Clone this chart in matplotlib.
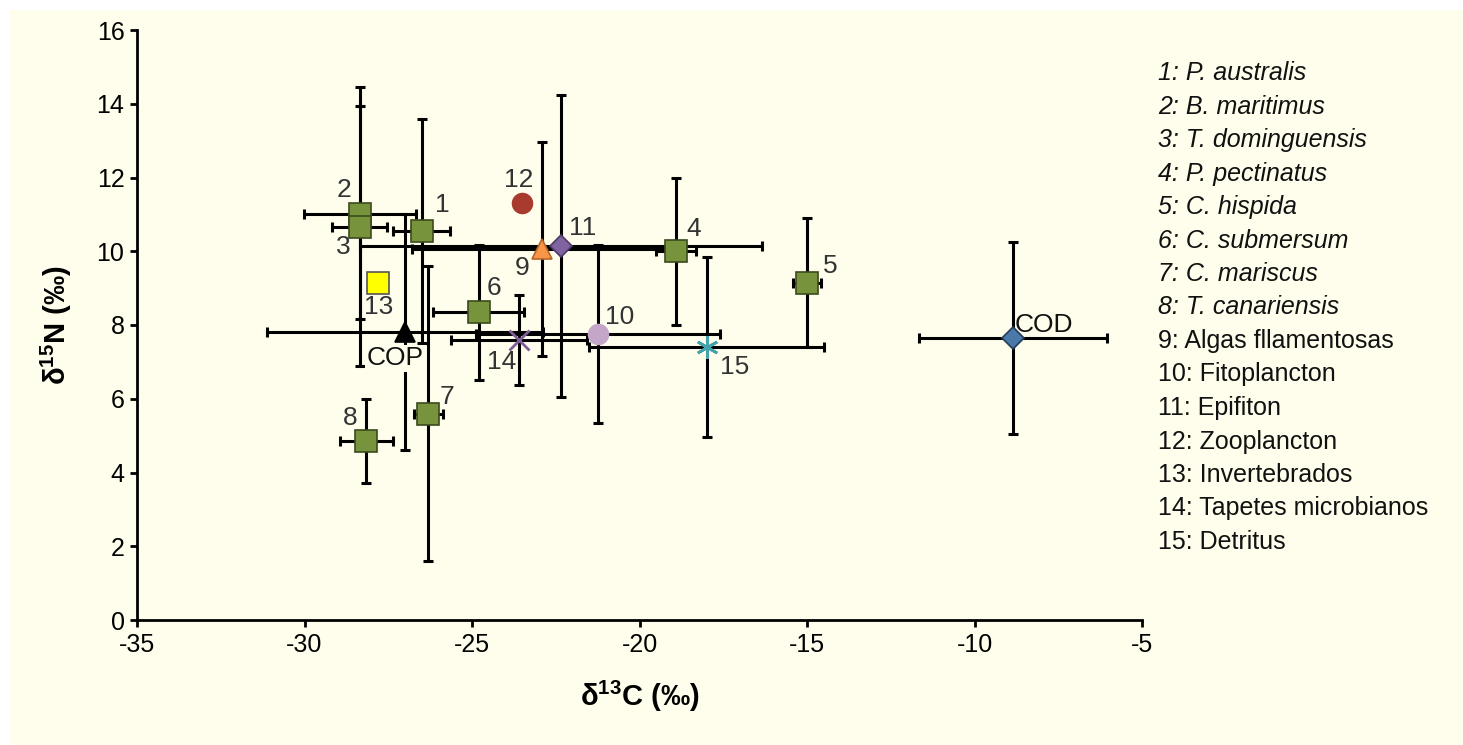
import numpy as np
import matplotlib
matplotlib.use("Agg")
import matplotlib.pyplot as plt
from matplotlib.patches import Rectangle

plt.rcParams['font.family'] = ['Liberation Sans', 'DejaVu Sans']
plt.rcParams['mathtext.fontset'] = 'custom'
plt.rcParams['mathtext.rm'] = 'Liberation Sans'
plt.rcParams['mathtext.bf'] = 'Liberation Sans:bold'
plt.rcParams['axes.unicode_minus'] = False

# point labels, positions and errors (d13C, d15N)
labels = ['1', '2', '3', '4', '5', '6', '7', '8', '9', '10', '11', '12', '13', '14', '15', 'COP', 'COD']
d13C = [-26.5, -28.35, -28.35, -18.9, -15.0, -24.8, -26.3, -28.15, -22.9, -21.25,
        -22.35, -23.5, -27.8, -23.6, -18.0, -27.0, -8.85]
d15N = [10.55, 11.0, 10.65, 10.0, 9.15, 8.35, 5.6, 4.85, 10.05, 7.75,
        10.15, 11.3, 9.15, 7.6, 7.4, 7.8, 7.65]
err_C = [0.85, 1.67, 0.82, 0.6, 0.43, 1.36, 0.42, 0.8, 3.9, 3.64,
         6.0, 0, 0, 2.03, 3.5, 4.12, 2.8]
err_N_low = [3.04, 4.1, 2.48, 2.0, 1.76, 1.83, 4.0, 1.13, 2.9, 2.42,
             4.1, 0, 0, 1.22, 2.44, 3.2, 2.6]
err_N_high = [3.04, 3.45, 3.3, 2.0, 1.76, 1.83, 4.0, 1.13, 2.9, 2.42,
              4.1, 0, 0, 1.22, 2.44, 3.2, 2.6]

legend_lines = ['1: P. australis', '2: B. maritimus', '3: T. dominguensis', '4: P. pectinatus',
                '5: C. hispida', '6: C. submersum', '7: C. mariscus', '8: T. canariensis',
                '9: Algas fllamentosas', '10: Fitoplancton', '11: Epifiton', '12: Zooplancton',
                '13: Invertebrados', '14: Tapetes microbianos', '15: Detritus']

# marker style per point: (marker, face, edge, size)
green = '#77933C'
styles = [('s', green, '#3B4A1E', 15.5)] * 8 + [
    ('^', '#F79646', '#B5652A', 15),
    ('o', '#C4A6C8', 'none', 15.5),
    ('D', '#8064A2', '#4D3A66', 11),
    ('o', '#A93A2E', 'none', 15.5),
    ('s', '#FFFF00', '#555555', 15.5),
    ('x', '#7F5F9A', '#7F5F9A', 14),
    ((6, 2, 0), '#45A3AE', '#45A3AE', 16),
    ('^', '#000000', '#000000', 15),
    ('D', '#4A78A8', '#243C58', 11),
]
# label offsets in pixels
offsets = [(21, 26), (-16, 24), (-16, -20), (17, 22), (23, 17), (15, 24), (19, 17), (-16, 23),
           (-20, -19), (22, 17), (22, 18), (-4, 23), (0, -24), (-17, -22), (28, -20),
           (-10, -26), (31, 13)]

cream = '#FFFDEB'
fig = plt.figure(figsize=(14.63, 7.45), dpi=100, facecolor='white')
fig.patches.append(Rectangle((10 / 1463, -0.01), 1, 735 / 745 + 0.01, transform=fig.transFigure,
                             facecolor=cream, edgecolor='none', zorder=-5))
ax = fig.add_axes([137 / 1463, 125 / 745, 1005 / 1463, 590 / 745])
ax.set_facecolor(cream)

for i in range(len(labels)):
    if err_C[i] > 0 or err_N_low[i] > 0:
        ax.errorbar(d13C[i], d15N[i], xerr=err_C[i], yerr=[[err_N_low[i]], [err_N_high[i]]],
                    fmt='none', ecolor='black', elinewidth=2.2, capsize=3.5, capthick=2.2, zorder=2)

for i in range(len(labels)):
    m, fc, ec, ms = styles[i]
    if m in ('x',) or isinstance(m, tuple):
        ax.plot(d13C[i], d15N[i], marker=m, ms=ms, color=fc, mew=2, ls='none', zorder=3)
    else:
        ax.plot(d13C[i], d15N[i], marker=m, ms=ms, mfc=fc, mec=ec, mew=1.2, ls='none', zorder=3)

for i, lab in enumerate(labels):
    col = '#111111' if lab in ('COP', 'COD') else '#333333'
    kw = {}
    if lab == 'COP':
        kw['bbox'] = dict(boxstyle='square,pad=0.05', fc=cream, ec='none')
    ax.annotate(lab, (d13C[i], d15N[i]), xytext=offsets[i], textcoords='offset pixels',
                ha='center', va='center', fontsize=19, color=col, zorder=4, **kw)

ax.set_xlim(-35, -5)
ax.set_ylim(0, 16)
ax.set_xticks(np.arange(-35, -4, 5))
ax.set_yticks(np.arange(0, 17, 2))
for s in ['top', 'right']:
    ax.spines[s].set_visible(False)
for s in ['left', 'bottom']:
    ax.spines[s].set_linewidth(2)
ax.tick_params(axis='both', labelsize=18, width=2, length=5, direction='out', pad=4)
ax.set_xlabel(r'δ$^{\mathbf{13}}$C (‰)', fontsize=21, fontweight='bold', labelpad=16)
ax.set_ylabel(r'δ$^{\mathbf{15}}$N (‰)', fontsize=21, fontweight='bold', labelpad=16)

for k, txt in enumerate(legend_lines):
    style = 'italic' if k < 8 else 'normal'
    fig.text(1158 / 1463, 1 - (73 + k * 33.5) / 745, txt, fontsize=18, style=style,
             ha='left', va='center', color='#111111')

fig.savefig('out.png', dpi=100, facecolor=fig.get_facecolor())
